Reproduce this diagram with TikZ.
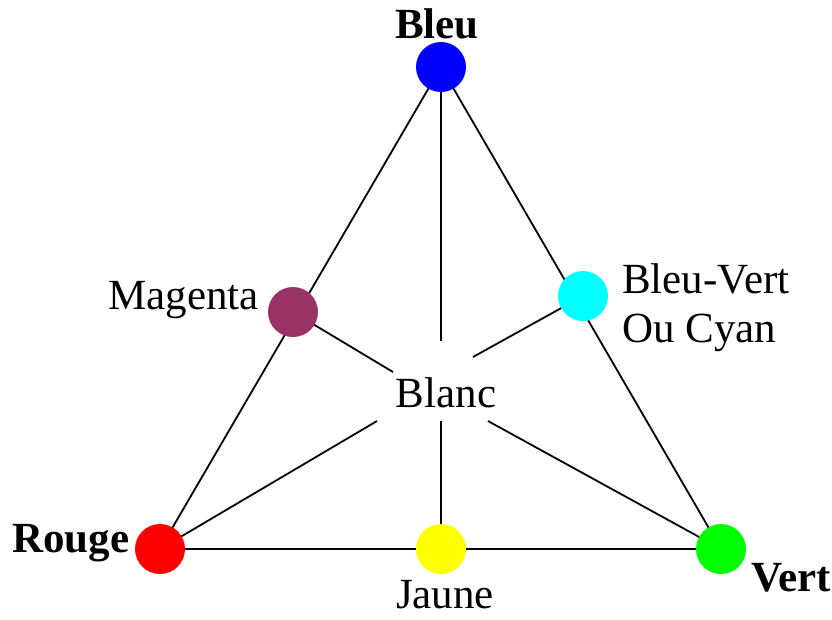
\documentclass[tikz,border=0pt]{standalone}
\usepackage{fontspec}
\setmainfont{Liberation Serif}
\definecolor{cBleu}{RGB}{0,0,255}
\definecolor{cRouge}{RGB}{255,0,0}
\definecolor{cVert}{RGB}{0,255,0}
\definecolor{cJaune}{RGB}{255,255,0}
\definecolor{cCyan}{RGB}{0,255,255}
\definecolor{cMagenta}{RGB}{153,51,102}
\begin{document}
\begin{tikzpicture}[x=1pt,y=-1pt,
  dot/.style={circle,inner sep=0pt,minimum size=50pt,draw=none},
  lab/.style={inner sep=0pt,font=\fontsize{43}{50}\selectfont},
  blab/.style={lab,font=\fontsize{43}{50}\selectfont\bfseries},
  edge/.style={line width=1.8pt,black}]
\useasboundingbox (0,0) rectangle (832,619);
% centre end points
\coordinate (eT) at (441,341);
\coordinate (eUL) at (393,372);
\coordinate (eUR) at (473,357);
\coordinate (eLL) at (377,421);
\coordinate (eB) at (441,421);
\coordinate (eLR) at (488,421);
% circles (positions)
\coordinate (pB) at (441,67);
\coordinate (pR) at (160,549);
\coordinate (pJ) at (441,549);
\coordinate (pV) at (721,549);
\coordinate (pM) at (293,312);
\coordinate (pC) at (583,296);
% lines
\draw[edge] (pB) -- (pR);
\draw[edge] (pB) -- (pV);
\draw[edge] (pR) -- (pV);
\draw[edge] (pB) -- (eT);
\draw[edge] (pM) -- (eUL);
\draw[edge] (pC) -- (eUR);
\draw[edge] (pR) -- (eLL);
\draw[edge] (pJ) -- (eB);
\draw[edge] (pV) -- (eLR);
% dots
\node[dot,fill=cBleu] (B) at (pB) {};
\node[dot,fill=cRouge] (R) at (pR) {};
\node[dot,fill=cJaune] (J) at (pJ) {};
\node[dot,fill=cVert] (V) at (pV) {};
\node[dot,fill=cMagenta] (M) at (pM) {};
\node[dot,fill=cCyan] (C) at (pC) {};
% labels
\node[blab,anchor=base] (tB) at (437,38) {Bleu};
\node[blab,anchor=base west] (tR) at (12,552) {Rouge};
\node[lab,anchor=base] (tJ) at (445,608) {Jaune};
\node[blab,anchor=base west] (tV) at (751,591) {Vert};
\node[lab,anchor=base west] (tC1) at (622,293) {Bleu-Vert};
\node[lab,anchor=base west] (tC2) at (622,342) {Ou Cyan};
\node[lab,anchor=base west] (tM) at (108,309) {Magenta};
\node[lab,anchor=base] (tW) at (446,407) {Blanc};
\end{tikzpicture}
\end{document}
